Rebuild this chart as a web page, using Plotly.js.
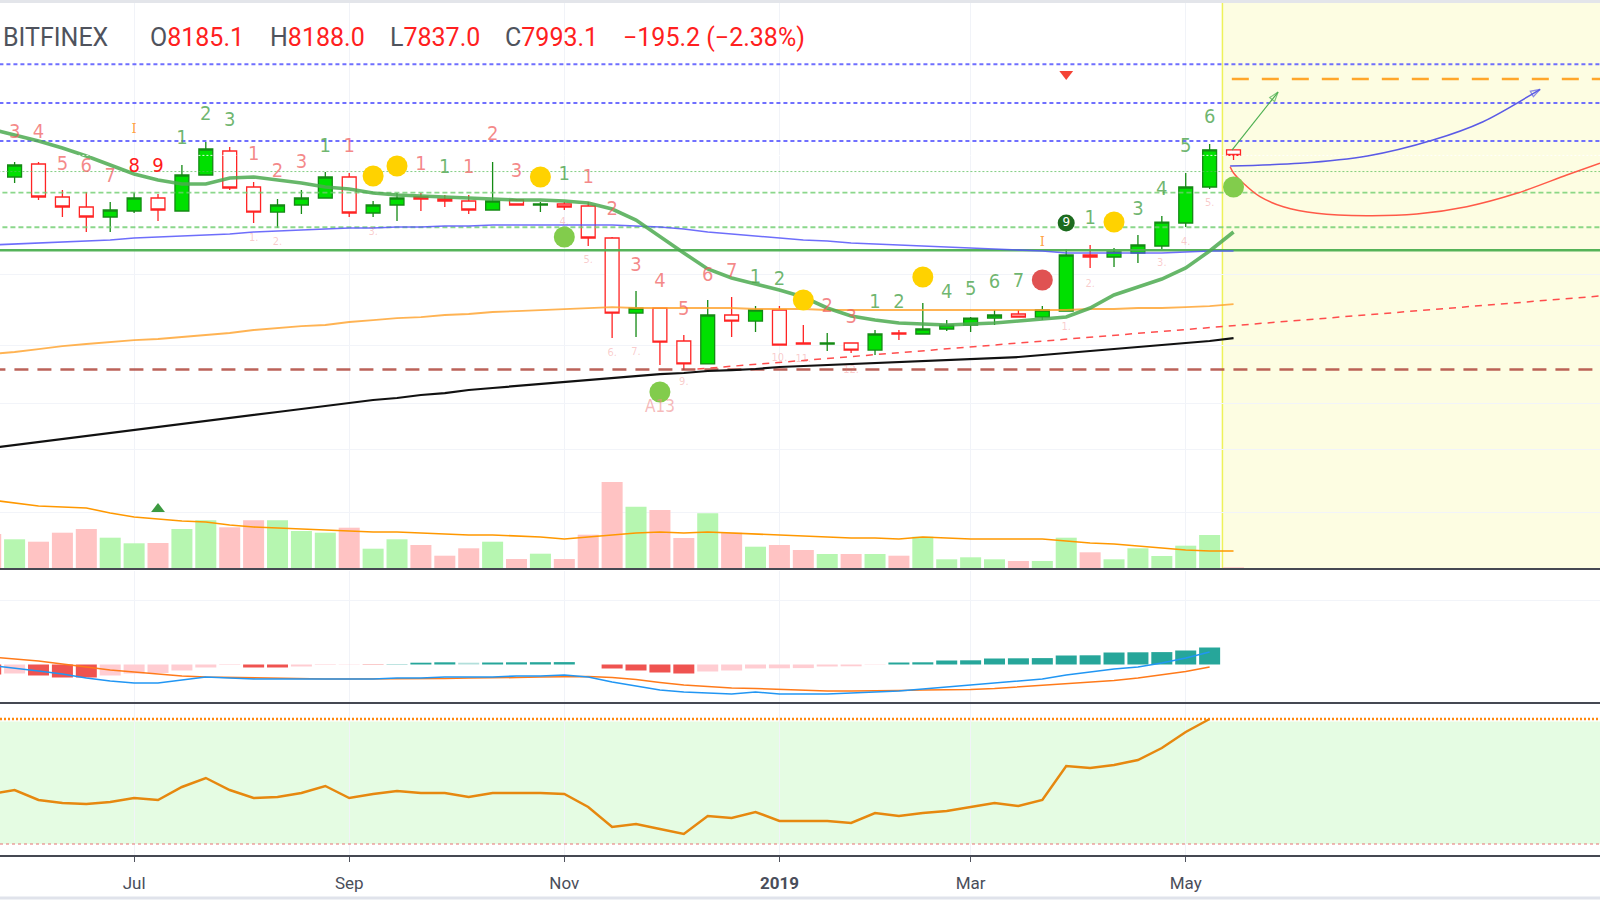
<!DOCTYPE html>
<html>
<head>
<meta charset="utf-8">
<script src="https://cdn.plot.ly/plotly-3.0.1.min.js"></script>
<style>
html,body{margin:0;padding:0;background:#ffffff;overflow:hidden;}
#chart{width:1600px;height:900px;}
</style>
</head>
<body>
<div id="chart"></div>
<script>
// ================= DATA =================
const weeks = ['2018-05-21','2018-05-28','2018-06-04','2018-06-11','2018-06-18','2018-06-25','2018-07-02','2018-07-09','2018-07-16','2018-07-23',
  '2018-07-30','2018-08-06','2018-08-13','2018-08-20','2018-08-27','2018-09-03','2018-09-10','2018-09-17','2018-09-24','2018-10-01',
  '2018-10-08','2018-10-15','2018-10-22','2018-10-29','2018-11-05','2018-11-12','2018-11-19','2018-11-26','2018-12-03','2018-12-10',
  '2018-12-17','2018-12-24','2018-12-31','2019-01-07','2019-01-14','2019-01-21','2019-01-28','2019-02-04','2019-02-11','2019-02-18',
  '2019-02-25','2019-03-04','2019-03-11','2019-03-18','2019-03-25','2019-04-01','2019-04-08','2019-04-15','2019-04-22','2019-04-29',
  '2019-05-06','2019-05-13','2019-05-20'];

const open  = [8060,7288,7704,6691,6411,6143,6302,6662,6302,7350,8145,6983,6275,6466,6662,7288,6249,6466,6691,6634,
  6578,6329,6606,6466,6494,6439,5616,4075,4163,3616,3278,4041,3938,4128,3585,3570,3585,3479,3742,3726,
  3806,3871,3989,4058,4006,4110,5222,5178,5267,5427,5987,6983,8185.1];
const high  = [8240,7770,7770,6894,6835,6550,6806,6777,7671,8467,8285,7134,6634,6894,7445,7413,6578,6806,6806,6748,
  6748,7770,6634,6550,6550,6550,5640,4478,4163,3710,4308,4365,4199,4199,3871,3742,3585,3790,3790,4253,
  3955,4006,4128,4128,4199,5358,5450,5381,5688,6169,7413,8395,8188.0];
const low   = [7180,7103,6606,6143,5762,5762,6249,6038,6302,7350,6894,5987,5861,6222,6662,6143,6143,6038,6302,6411,
  6222,6329,6466,6275,6329,5427,3663,3678,3264,3194,3278,3678,3758,3554,3570,3464,3435,3406,3631,3726,
  3774,3758,3871,4006,3955,4110,4940,4961,5046,5358,5885,6923,7837.0];
const close = [7288,7671,6691,6411,6143,6329,6662,6329,7350,8215,6953,6275,6466,6662,7288,6249,6466,6662,6634,6578,
  6329,6578,6466,6494,6411,5616,4075,4163,3600,3278,4041,3938,4128,3554,3570,3585,3479,3726,3726,3806,
  3871,3989,4041,4006,4128,5222,5178,5290,5450,6012,6983,8185.1,7993.1];

const volume   = [35,29.7,27.3,36.3,40,31.3,25.7,26,40,48.7,41.7,48.7,48.7,38,36.3,41.3,20.3,29.7,24,13.3,
  20.7,27.3,10,15.3,10,34.3,87,62.3,59,31,55.7,36.3,22.3,24,19,15,15,15,13.3,32.3,
  9.7,11.7,9.7,8,8,31.3,16.7,9.7,20.7,13,23.3,34,1.7];
const volumeMA = [69,66,63,62,61,56,52,50,48,47,44,42,41,40,39,38,37,37,36,35,
  34,34,33,32,30,32,34,36,37,36,37,36,35,34,33,32,31,31,30,32,
  31,30,30,30,30,28,26,25,23,21,19,18,18];

const maFast = [8947,8720,8500,8249,7972,7671,7382,7195,7073,7073,7257,7288,7195,7103,6983,6923,6806,6748,6719,6691,
  6662,6634,6606,6606,6578,6522,6356,6064,5640,5267,4919,4733,4613,4497,4364,4164,4024,3955,3905,3888,
  3872,3888,3905,3939,3972,4006,4164,4402,4555,4713,4940,5312,5761];
const maMid  = [5450,5473,5497,5520,5544,5568,5615,5640,5664,5688,5712,5761,5786,5811,5836,5861,5861,5886,5886,5911,
  5911,5936,5936,5936,5936,5936,5936,5911,5886,5836,5761,5712,5664,5615,5568,5544,5497,5473,5450,5427,
  5404,5381,5358,5335,5312,5267,5267,5267,5267,5267,5290,5312,5312];
const maSlow = [3420,3450,3494,3539,3570,3600,3631,3647,3678,3710,3742,3790,3823,3855,3872,3922,3955,3989,4006,4041,
  4058,4093,4110,4128,4146,4164,4181,4164,4164,4164,4164,4164,4146,4146,4146,4128,4128,4128,4128,4128,
  4128,4128,4128,4128,4128,4128,4146,4146,4164,4164,4181,4199,4235];
const maLong = [2289,2318,2348,2379,2409,2440,2472,2504,2536,2569,2602,2636,2670,2704,2739,2774,2810,2834,2871,2895,
  2933,2958,2983,3009,3035,3061,3087,3114,3140,3154,3181,3194,3208,3236,3250,3263,3277,3291,3306,3320,
  3334,3348,3362,3377,3406,3435,3465,3494,3524,3554,3585,3616,3662];

// lower panes (weeks[0..51])
const macdLine   = [-1,-3.5,-6.5,-9.5,-13.5,-16.5,-18.5,-18.5,-15.5,-12.5,-13.5,-14.5,-14.5,-14.5,-14.5,-14.5,-14.5,-13.5,-13.5,-12.5,
  -12.5,-12.5,-11.5,-11.5,-10.5,-12.5,-17.5,-21.5,-25.5,-27.5,-28.5,-29.5,-27.5,-29.5,-29.5,-29.5,-28.5,-27.5,-26.5,-24.5,
  -22.5,-20.5,-18.5,-16.5,-14.5,-10.5,-7.5,-4.5,-2.5,1.5,6.5,12.5];
const signalLine = [7.5,5.5,3.5,0.5,-2.5,-5.5,-7.5,-9.5,-11.5,-12.5,-13,-13.5,-14,-14.5,-14.5,-14.5,-14.5,-14.5,-14.5,-14,
  -13.5,-13.5,-13,-12.5,-12.5,-12,-13,-15,-18,-20.5,-22,-23.5,-24,-25,-26,-26.5,-26.5,-26.5,-26,-25.5,
  -25.5,-25,-24,-22.5,-21,-19.5,-18,-16,-13.5,-10.5,-7,-2.5];
const macdHist   = [-10,-9,-11,-13,-13,-11,-9,-8.5,-6,-3,-0.5,-3,-3,-2,-0.5,-0.3,-0.3,0.3,1.8,2.2,
  1.8,2,2.2,2.3,2.4,0,-4,-6,-8,-9,-7,-6,-4,-3.8,-3.6,-2,-1.8,-0.3,2,2.2,
  4,4.2,6,6.2,6.4,9,9.2,12,12.2,12.4,14,17];
const oscLine    = [40,43.2,35.2,32.8,32,33.6,36.8,35.2,45.6,52.8,43.2,36.8,37.6,40.8,46.4,36.8,40,42.4,40.8,40.8,
  37.6,40.8,40.8,40.8,40,29.6,13.6,16,12,8,22.4,20.8,25.6,18.4,18.4,18.4,16.8,24.8,22.4,24.8,
  26.4,29.6,32.8,30.4,35.2,62.4,60.8,63.2,67.2,76.8,89.6,100];
const oscUpper = 100, oscLower = 0;

// horizontal levels
const blueLevels = [8500, 10000, 11800];
const greenDashLevels = [6815, 5880];
const greenDotLevel = 7460;
const greenSolidLevel = 5330;
const brownLevel = 3200;
const orangeLevel = 11077;
const lastPrice = 7993.1;
const trendX = ['2018-12-14', '2019-09-04 08:00'];
const trendY = [3208, 4383];

// drawings in the forecast zone
const arrowUpX = ['2019-05-19 13:00', '2019-06-02 01:00'];
const arrowUpY = [8179, 10479];
const blueCurveX = ['2019-05-19 00:00','2019-06-08 11:00','2019-06-28 05:00','2019-07-17 10:00','2019-08-01 02:00','2019-08-17 19:00'];
const blueCurveY = [7639, 7727, 7972, 8536, 9231, 10601];
const redCurveX = ['2019-05-19 00:00','2019-05-19 23:00','2019-05-22 21:00','2019-05-27 18:00','2019-06-03 14:00','2019-06-13 09:00',
  '2019-06-28 00:00','2019-07-12 16:00','2019-07-27 07:00','2019-08-10 23:00','2019-08-25 14:00','2019-09-04 08:00'];
const redCurveY = [7616, 7423, 7094, 6699, 6419, 6240, 6177, 6222, 6419, 6797, 7350, 7727];
const forecastStart = '2019-05-16 18:00';

// signals
const yellowIdx = [16,17,23,34,39,47], yellowPx = [7319,7639,7288,4308,4753,6013];
const greenDotIdx = [24,28,52],        greenDotPx = [5640,2908,6983];
const redDotIdx = [44],                redDotPx = [4693];
const nineIdx = [45],                  ninePx = [5987];
const sellTriIdx = [45],               sellTriPx = [11317];
const volTriIdx = [7],                 volTriVal = [60];

// TD counts
const tdGreenIdx = [8,9,10,14,19,24,32,33,37,38,40,41,42,43,46,48,49,50,51];
const tdGreenTxt = ['1','2','3','1','1','1','1','2','1','2','4','5','6','7','1','3','4','5','6'];
const tdGreenPx  = [8573,9499,9258,8285,7573,7350,4733,4693,4254,4254,4439,4497,4633,4653,6090,6329,6894,8285,9378];
const tdRedIdx = [1,2,3,4,5,11,12,13,15,18,20,21,22,25,26,27,28,29,30,31,35,36];
const tdRedTxt = ['3','4','5','6','7','1','2','3','1','1','1','2','3','1','2','3','4','5','6','7','2','3'];
const tdRedPx  = [8795,8795,7671,7606,7288,8006,7445,7737,8285,7671,7573,8720,7445,7257,6329,4982,4653,4128,4774,4856,4181,3989];
const tdBrightIdx = [6,7], tdBrightTxt = ['8','9'], tdBrightPx = [7606,7606];
const markIIdx = [6,44], markIPx = [8909,5497];
const countIdx = [11,12,16,24,25,26,27,29,33,34,36,45,46,49,50,51];
const countTxt = ['1.','2.','3.','4.','5.','6.','7.','9.','10.','11.','12.','1.','2.','3.','4.','5.'];
const countPx  = [5615,5520,5761,6013,5111,3435,3450,3035,3362,3348,3194,3839,4613,5046,5520,6521];
const a13Idx = [28], a13Px = [2716];

// axis ticks
const tickDates = ['2018-07-02','2018-09-03','2018-11-05','2019-01-07','2019-03-04','2019-05-06'];
const tickText  = ['Jul','Sep','Nov','<b>2019</b>','Mar','May'];

// ================= BUILD =================
const H = 857;                         // plot-area height in px (layout helper)
const pf = px => (H - px) / H;         // pixel row -> paper fraction
const xRange = ['2018-05-23 17:20', '2019-09-04 08:00'];
const xFar0 = '2018-05-01', xFar1 = '2019-09-30';
const at = arr => arr.map(i => weeks[i]);
const tdFont = "'Liberation Sans Narrow','DejaVu Sans Condensed','Roboto Condensed',Arial Narrow,sans-serif";

const traces = [];
function level(price, color, width, dash, from){
  traces.push({type:'scatter', mode:'lines', x:[from || xFar0, xFar1], y:[price, price],
    xaxis:'x', yaxis:'y', line:{color:color, width:width, dash:dash}, hoverinfo:'skip'});
}
blueLevels.forEach(p => level(p, 'rgba(95,95,255,0.9)', 2.2, '4px,3px'));
greenDashLevels.forEach(p => level(p, 'rgba(110,205,110,0.8)', 1.8, '5px,3px'));
level(greenDotLevel, 'rgba(90,190,90,0.75)', 1, '2px,2px');
level(greenSolidLevel, 'rgba(76,175,80,0.95)', 2.5, 'solid');
level(brownLevel, 'rgba(175,70,60,0.85)', 2.5, '14px,9px');
level(orangeLevel, '#ffa62b', 2.5, '17px,13px', '2019-05-19 12:00');

traces.push({type:'scatter', mode:'lines', x:trendX, y:trendY, xaxis:'x', yaxis:'y',
  line:{color:'#ff4d4d', width:1.5, dash:'7px,6px'}, hoverinfo:'skip'});

traces.push({type:'candlestick', x:weeks, open:open, high:high, low:low, close:close, xaxis:'x', yaxis:'y',
  increasing:{line:{color:'#148a14', width:1.3}, fillcolor:'#00e000'},
  decreasing:{line:{color:'#ff2424', width:1.3}, fillcolor:'#ffffff'},
  whiskerwidth:0, hoverinfo:'skip'});

function maLine(vals, color, width){
  traces.push({type:'scatter', mode:'lines', x:weeks, y:vals, xaxis:'x', yaxis:'y',
    line:{color:color, width:width}, hoverinfo:'skip'});
}
maLine(maLong, '#111111', 2.2);
maLine(maSlow, 'rgba(255,160,40,0.8)', 1.8);
maLine(maMid, 'rgba(85,85,250,0.85)', 1.6);
maLine(maFast, 'rgba(76,170,80,0.85)', 3.6);

level(lastPrice, 'rgba(255,255,255,0.9)', 1, '2px,2px');

// forecast drawings
traces.push({type:'scatter', mode:'lines+markers', x:arrowUpX, y:arrowUpY, xaxis:'x', yaxis:'y',
  line:{color:'#4caf50', width:1.2},
  marker:{symbol:'arrow-open', size:[0,10], angleref:'previous', color:'#4caf50', line:{width:1.2, color:'#4caf50'}},
  hoverinfo:'skip'});
traces.push({type:'scatter', mode:'lines+markers', x:blueCurveX, y:blueCurveY, xaxis:'x', yaxis:'y',
  line:{color:'#5a5ae6', width:1.5, shape:'spline', smoothing:0.8},
  marker:{symbol:'arrow-open', size:[0,0,0,0,0,10], angleref:'previous', color:'#5a5ae6', line:{width:1.3, color:'#5a5ae6'}},
  hoverinfo:'skip'});
traces.push({type:'scatter', mode:'lines', x:redCurveX, y:redCurveY, xaxis:'x', yaxis:'y',
  line:{color:'#ff5a48', width:1.5, shape:'spline', smoothing:0.8}, hoverinfo:'skip'});

// signal dots
function dots(idx, prices, color, size){
  traces.push({type:'scatter', mode:'markers', x:at(idx), y:prices, xaxis:'x', yaxis:'y',
    marker:{color:color, size:size, line:{width:0}}, hoverinfo:'skip'});
}
dots(yellowIdx, yellowPx, '#ffd200', 21);
dots(greenDotIdx, greenDotPx, '#82cc4c', 21);
dots(redDotIdx, redDotPx, '#e05252', 21);
traces.push({type:'scatter', mode:'markers+text', x:at(nineIdx), y:ninePx, text:['9'], xaxis:'x', yaxis:'y',
  marker:{color:'#1c6b1e', size:17}, textposition:'middle center',
  textfont:{color:'#ffffff', size:12, family:'DejaVu Sans'}, hoverinfo:'skip'});
traces.push({type:'scatter', mode:'markers', x:at(sellTriIdx), y:sellTriPx, xaxis:'x', yaxis:'y',
  marker:{symbol:'triangle-down', color:'#f44336', size:12}, hoverinfo:'skip'});

// TD texts
function texts(idx, txt, prices, color, size, family){
  traces.push({type:'scatter', mode:'text', x:at(idx), y:prices, text:txt, xaxis:'x', yaxis:'y',
    textposition:'middle center', textfont:{color:color, size:size, family:family || tdFont}, hoverinfo:'skip'});
}
texts(tdGreenIdx, tdGreenTxt, tdGreenPx, 'rgba(72,162,72,0.78)', 20);
texts(tdRedIdx, tdRedTxt, tdRedPx, 'rgba(240,92,92,0.72)', 20);
texts(tdBrightIdx, tdBrightTxt, tdBrightPx, '#ff1a1a', 20);
texts(markIIdx, ['I','I'], markIPx, 'rgba(255,150,40,0.9)', 13, 'DejaVu Serif');
texts(countIdx, countTxt, countPx, 'rgba(240,120,120,0.38)', 11);
texts(a13Idx, ['A13'], a13Px, 'rgba(240,140,140,0.6)', 17);

// volume (overlay on price pane)
const volColors = close.map((c, i) => c >= open[i] ? '#b6f6b0' : '#ffc3c3');
traces.push({type:'bar', x:weeks, y:volume, xaxis:'x', yaxis:'y4', width:532000000,
  marker:{color:volColors, line:{width:0}}, hoverinfo:'skip'});
traces.push({type:'scatter', mode:'lines', x:weeks, y:volumeMA, xaxis:'x', yaxis:'y4',
  line:{color:'#ff9800', width:1.6}, hoverinfo:'skip'});
traces.push({type:'scatter', mode:'markers', x:at(volTriIdx), y:volTriVal, xaxis:'x', yaxis:'y4',
  marker:{symbol:'triangle-up', color:'#3c9a40', size:12}, hoverinfo:'skip'});

// MACD pane
const mWeeks = weeks.slice(0, macdHist.length);
const histColors = macdHist.map((h, i) => {
  const prev = i > 0 ? macdHist[i-1] : h;
  if (h >= 0) return prev < h ? '#26a69a' : '#b2dfdb';
  return prev < h ? '#ffcdd2' : '#ef5350';
});
traces.push({type:'bar', x:mWeeks, y:macdHist, xaxis:'x', yaxis:'y2', width:532000000,
  marker:{color:histColors, line:{width:0}}, hoverinfo:'skip'});
traces.push({type:'scatter', mode:'lines', x:mWeeks, y:signalLine, xaxis:'x', yaxis:'y2',
  line:{color:'#ff7a1a', width:1.6}, hoverinfo:'skip'});
traces.push({type:'scatter', mode:'lines', x:mWeeks, y:macdLine, xaxis:'x', yaxis:'y2',
  line:{color:'#2196f3', width:1.6}, hoverinfo:'skip'});

// oscillator pane
traces.push({type:'scatter', mode:'lines', x:mWeeks, y:oscLine, xaxis:'x', yaxis:'y3',
  line:{color:'#e6880f', width:2.5}, hoverinfo:'skip'});

// ================= LAYOUT =================
const shapes = [
  {type:'rect', xref:'x', yref:'paper', x0:forecastStart, x1:xRange[1], y0:pf(569), y1:1,
   fillcolor:'#fdfde2', line:{width:0}, layer:'below'},
  {type:'line', xref:'x', yref:'paper', x0:forecastStart, x1:forecastStart, y0:pf(569), y1:1,
   line:{color:'#eef25a', width:1.5}, layer:'below'},
  {type:'rect', xref:'paper', yref:'y3', x0:0, x1:1, y0:oscLower, y1:oscUpper - 2,
   fillcolor:'#e5fce3', line:{width:0}, layer:'below'},
  {type:'line', xref:'paper', yref:'y3', x0:0, x1:1, y0:oscUpper, y1:oscUpper,
   line:{color:'rgba(255,130,0,0.95)', width:2.5, dash:'2px,2px'}, layer:'above'},
  {type:'line', xref:'paper', yref:'y3', x0:0, x1:1, y0:oscLower, y1:oscLower,
   line:{color:'rgba(230,120,120,0.7)', width:1.5, dash:'3px,3px'}, layer:'above'},
  {type:'line', xref:'paper', yref:'paper', x0:0, x1:1, y0:pf(569), y1:pf(569), line:{color:'#454852', width:2}},
  {type:'line', xref:'paper', yref:'paper', x0:0, x1:1, y0:pf(703), y1:pf(703), line:{color:'#454852', width:2}},
  {type:'line', xref:'paper', yref:'paper', x0:0, x1:1, y0:pf(856), y1:pf(856), line:{color:'#454852', width:2}},
  {type:'rect', xref:'paper', yref:'paper', x0:0, x1:1, y0:pf(3), y1:1, fillcolor:'#e3e5ea', line:{width:0}},
  {type:'line', xref:'paper', yref:'paper', x0:0, x1:1, y0:pf(898), y1:pf(898), line:{color:'#e0e3eb', width:3}}
];

const hdrFont = {family:'Roboto, Arial, sans-serif', size:25, color:'#4f535d'};
const red = '#ff2020';
const hdr = (xpx, html) => ({xref:'paper', yref:'paper', x:xpx/1600, y:pf(38), xanchor:'left', yanchor:'middle',
  text:html, showarrow:false, font:hdrFont});
const annotations = [
  hdr(1, 'BITFINEX'),
  hdr(148, 'O<span style="color:'+red+'">'+open[52].toFixed(1)+'</span>'),
  hdr(268, 'H<span style="color:'+red+'">'+high[52].toFixed(1)+'</span>'),
  hdr(388, 'L<span style="color:'+red+'">'+low[52].toFixed(1)+'</span>'),
  hdr(503, 'C<span style="color:'+red+'">'+close[52].toFixed(1)+'</span>'),
  hdr(621, '<span style="color:'+red+'">−195.2 (−2.38%)</span>')
];

const layout = {
  width:1600, height:900,
  margin:{l:0, r:0, t:0, b:43, pad:0},
  paper_bgcolor:'#ffffff', plot_bgcolor:'rgba(0,0,0,0)',
  showlegend:false, hovermode:false,
  boxgap:0.3, boxgroupgap:0.17,
  font:{family:'Roboto, Arial, sans-serif'},
  xaxis:{type:'date', range:xRange, anchor:'y3', rangeslider:{visible:false},
    tickvals:tickDates, ticktext:tickText, ticks:'outside', ticklen:5, tickcolor:'#50535e',
    tickfont:{family:'Roboto, Arial, sans-serif', size:17, color:'#4a4e5a'}, ticklabelstandoff:7,
    showgrid:true, gridcolor:'#f1f3f8', zeroline:false, showline:false, fixedrange:true},
  yaxis:{type:'log', domain:[pf(569), pf(3)], range:[3.13508, 4.18556], showticklabels:false,
    tickvals:[1740,2270,2774,3554,4795], showgrid:true, gridcolor:'#f2f4f9', zeroline:false, fixedrange:true},
  yaxis4:{overlaying:'y', anchor:'x', range:[0, 566], visible:false, fixedrange:true},
  yaxis2:{domain:[pf(702), pf(571)], range:[-37.5, 93.5], anchor:'x', showticklabels:false,
    tickvals:[64.5], showgrid:true, gridcolor:'#f2f4f9', zeroline:false, fixedrange:true},
  yaxis3:{domain:[pf(856), pf(704)], range:[-9.6, 112], anchor:'x', showticklabels:false,
    showgrid:false, zeroline:false, fixedrange:true},
  shapes:shapes, annotations:annotations
};

Plotly.newPlot('chart', traces, layout, {staticPlot:true, displayModeBar:false});
</script>
</body>
</html>
